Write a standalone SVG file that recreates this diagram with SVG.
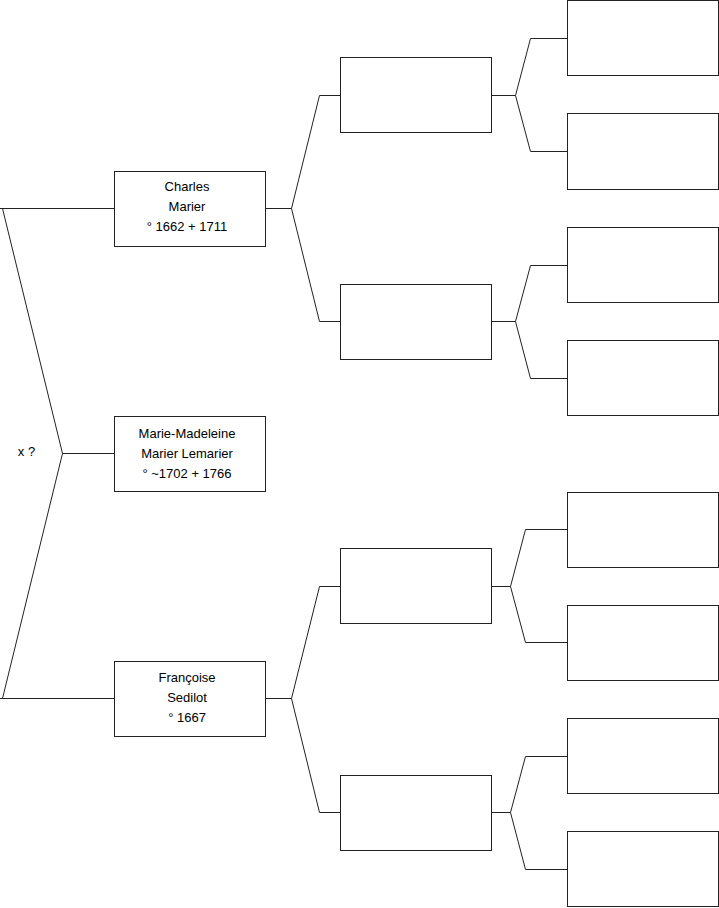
<svg xmlns="http://www.w3.org/2000/svg" width="719" height="908" viewBox="0 0 719 908">
<style>
.b{fill:#fff;stroke:#222;stroke-width:1}
.c{fill:none;stroke:#222;stroke-width:1}
text{font-family:"Liberation Sans",Arial,sans-serif;font-size:13px;fill:#000;text-anchor:middle}
</style>
<rect width="719" height="908" fill="#fff"/>
<g id="connectors">
<path class="c" d="M114.5,208.5H0M2.5,208.5L62.5,453.5L2.5,698.5M0,698.5H114.5M62.5,453.5H114.5"/>
<path class="c" d="M265.5,208.5H291.5M340.5,95.5H319.5L291.5,208.5L319.5,321.5H340.5"/>
<path class="c" d="M265.5,698.5H291.5M340.5,586.5H319.5L291.5,698.5L319.5,812.5H340.5"/>
<path class="c" d="M491.5,95.5H515.5M567.5,38.5H530.5L515.5,95.5L530.5,151.5H567.5"/>
<path class="c" d="M491.5,321.5H515.5M567.5,265.5H530.5L515.5,321.5L530.5,378.5H567.5"/>
<path class="c" d="M491.5,586.5H510.5M567.5,529.5H525.5L510.5,586.5L525.5,642.5H567.5"/>
<path class="c" d="M491.5,812.5H510.5M567.5,756.5H525.5L510.5,812.5L525.5,869.5H567.5"/>
<text x="26.5" y="456">x ?</text>
</g>
<g id="charles"><rect class="b" x="114.5" y="171.5" width="151" height="75"/><text x="187" y="191">Charles</text><text x="187" y="211">Marier</text><text x="187" y="231">° 1662 + 1711</text></g>
<g id="marie"><rect class="b" x="114.5" y="416.5" width="151" height="75"/><text x="187" y="438">Marie-Madeleine</text><text x="187" y="458">Marier Lemarier</text><text x="187" y="478">° ~1702 + 1766</text></g>
<g id="francoise"><rect class="b" x="114.5" y="661.5" width="151" height="75"/><text x="187" y="682">Françoise</text><text x="187" y="702">Sedilot</text><text x="187" y="722">° 1667</text></g>
<g id="p1"><rect class="b" x="340.5" y="57.5" width="151" height="75"/></g>
<g id="p2"><rect class="b" x="340.5" y="284.5" width="151" height="75"/></g>
<g id="p3"><rect class="b" x="340.5" y="548.5" width="151" height="75"/></g>
<g id="p4"><rect class="b" x="340.5" y="775.5" width="151" height="75"/></g>
<g id="g1"><rect class="b" x="567.5" y="0.5" width="151" height="75"/></g>
<g id="g2"><rect class="b" x="567.5" y="113.5" width="151" height="76"/></g>
<g id="g3"><rect class="b" x="567.5" y="227.5" width="151" height="75"/></g>
<g id="g4"><rect class="b" x="567.5" y="340.5" width="151" height="75"/></g>
<g id="g5"><rect class="b" x="567.5" y="492.5" width="151" height="75"/></g>
<g id="g6"><rect class="b" x="567.5" y="605.5" width="151" height="75"/></g>
<g id="g7"><rect class="b" x="567.5" y="718.5" width="151" height="75"/></g>
<g id="g8"><rect class="b" x="567.5" y="831.5" width="151" height="75"/></g>
</svg>
